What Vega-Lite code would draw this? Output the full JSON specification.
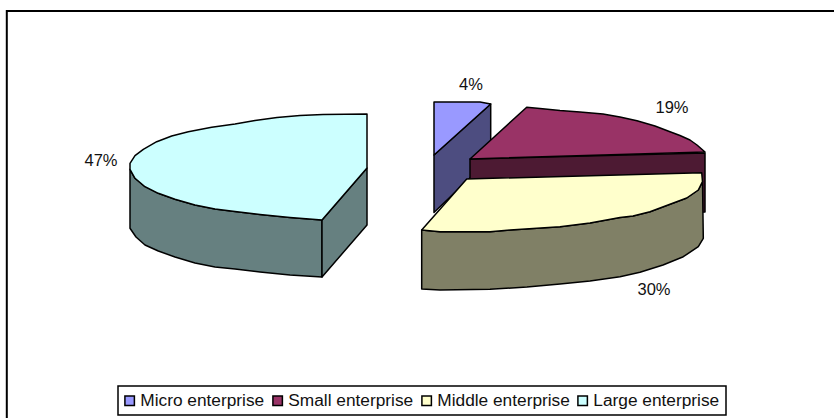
{"$schema":"https://vega.github.io/schema/vega-lite/v6.json","width":834,"height":418,"padding":0,"autosize":{"type":"none"},"background":"white","view":{"stroke":null},"config":{"legend":{"strokeWidth":1.5}},
"datasets":{"faces":[
{"s":"mw","part":"Micro enterprise side","i":1,"x":434,"y":155},{"s":"mw","part":"Micro enterprise side","i":2,"x":490.7,"y":104},{"s":"mw","part":"Micro enterprise side","i":3,"x":490.7,"y":158},{"s":"mw","part":"Micro enterprise side","i":4,"x":434,"y":212.5},
{"s":"mt","part":"Micro enterprise","i":1,"x":434,"y":102},{"s":"mt","part":"Micro enterprise","i":2,"x":480,"y":102},{"s":"mt","part":"Micro enterprise","i":3,"x":490.7,"y":104},{"s":"mt","part":"Micro enterprise","i":4,"x":434,"y":155},
{"s":"sw","part":"Small enterprise side","i":1,"x":470,"y":159},{"s":"sw","part":"Small enterprise side","i":2,"x":705,"y":153},{"s":"sw","part":"Small enterprise side","i":3,"x":705,"y":212},{"s":"sw","part":"Small enterprise side","i":4,"x":470,"y":218},
{"s":"st","part":"Small enterprise","i":1,"x":470,"y":159},{"s":"st","part":"Small enterprise","i":2,"x":526.7,"y":107.3},{"s":"st","part":"Small enterprise","i":3,"x":540,"y":108.5},{"s":"st","part":"Small enterprise","i":4,"x":560,"y":110.5},{"s":"st","part":"Small enterprise","i":5,"x":580,"y":112},{"s":"st","part":"Small enterprise","i":6,"x":603,"y":114},{"s":"st","part":"Small enterprise","i":7,"x":620,"y":117},{"s":"st","part":"Small enterprise","i":8,"x":637,"y":120.7},{"s":"st","part":"Small enterprise","i":9,"x":655,"y":126},{"s":"st","part":"Small enterprise","i":10,"x":670,"y":131.7},{"s":"st","part":"Small enterprise","i":11,"x":680,"y":135.5},{"s":"st","part":"Small enterprise","i":12,"x":690,"y":140},{"s":"st","part":"Small enterprise","i":13,"x":697,"y":145},{"s":"st","part":"Small enterprise","i":14,"x":705,"y":152},
{"s":"dw","part":"Middle enterprise side","i":1,"x":421.7,"y":230},{"s":"dw","part":"Middle enterprise side","i":2,"x":440,"y":231.7},{"s":"dw","part":"Middle enterprise side","i":3,"x":490,"y":231.7},{"s":"dw","part":"Middle enterprise side","i":4,"x":510,"y":230},{"s":"dw","part":"Middle enterprise side","i":5,"x":560,"y":226.7},{"s":"dw","part":"Middle enterprise side","i":6,"x":590,"y":223},{"s":"dw","part":"Middle enterprise side","i":7,"x":620,"y":217.5},{"s":"dw","part":"Middle enterprise side","i":8,"x":633,"y":216},{"s":"dw","part":"Middle enterprise side","i":9,"x":650,"y":211.7},{"s":"dw","part":"Middle enterprise side","i":10,"x":670,"y":204.3},{"s":"dw","part":"Middle enterprise side","i":11,"x":686.7,"y":198},{"s":"dw","part":"Middle enterprise side","i":12,"x":698.3,"y":190},{"s":"dw","part":"Middle enterprise side","i":13,"x":702.5,"y":181.7},{"s":"dw","part":"Middle enterprise side","i":14,"x":703.3,"y":238.3},{"s":"dw","part":"Middle enterprise side","i":15,"x":698.3,"y":246.7},{"s":"dw","part":"Middle enterprise side","i":16,"x":683.3,"y":256.7},{"s":"dw","part":"Middle enterprise side","i":17,"x":663,"y":265},{"s":"dw","part":"Middle enterprise side","i":18,"x":640,"y":272.3},{"s":"dw","part":"Middle enterprise side","i":19,"x":620,"y":276.7},{"s":"dw","part":"Middle enterprise side","i":20,"x":590,"y":281},{"s":"dw","part":"Middle enterprise side","i":21,"x":560,"y":284},{"s":"dw","part":"Middle enterprise side","i":22,"x":527,"y":287},{"s":"dw","part":"Middle enterprise side","i":23,"x":490,"y":289.3},{"s":"dw","part":"Middle enterprise side","i":24,"x":440,"y":290},{"s":"dw","part":"Middle enterprise side","i":25,"x":421.7,"y":289},
{"s":"dt","part":"Middle enterprise","i":1,"x":421.7,"y":230},{"s":"dt","part":"Middle enterprise","i":2,"x":466.7,"y":179},{"s":"dt","part":"Middle enterprise","i":3,"x":701.7,"y":172.7},{"s":"dt","part":"Middle enterprise","i":4,"x":702.5,"y":181.7},{"s":"dt","part":"Middle enterprise","i":5,"x":698.3,"y":190},{"s":"dt","part":"Middle enterprise","i":6,"x":686.7,"y":198},{"s":"dt","part":"Middle enterprise","i":7,"x":670,"y":204.3},{"s":"dt","part":"Middle enterprise","i":8,"x":650,"y":211.7},{"s":"dt","part":"Middle enterprise","i":9,"x":633,"y":216},{"s":"dt","part":"Middle enterprise","i":10,"x":620,"y":217.5},{"s":"dt","part":"Middle enterprise","i":11,"x":590,"y":223},{"s":"dt","part":"Middle enterprise","i":12,"x":560,"y":226.7},{"s":"dt","part":"Middle enterprise","i":13,"x":510,"y":230},{"s":"dt","part":"Middle enterprise","i":14,"x":490,"y":231.7},{"s":"dt","part":"Middle enterprise","i":15,"x":440,"y":231.7},
{"s":"lw","part":"Large enterprise side","i":1,"x":130,"y":169.3},{"s":"lw","part":"Large enterprise side","i":2,"x":135,"y":178.3},{"s":"lw","part":"Large enterprise side","i":3,"x":145,"y":186.7},{"s":"lw","part":"Large enterprise side","i":4,"x":158.3,"y":193.3},{"s":"lw","part":"Large enterprise side","i":5,"x":175,"y":199.3},{"s":"lw","part":"Large enterprise side","i":6,"x":195,"y":205},{"s":"lw","part":"Large enterprise side","i":7,"x":215,"y":209},{"s":"lw","part":"Large enterprise side","i":8,"x":235,"y":211.5},{"s":"lw","part":"Large enterprise side","i":9,"x":260,"y":214.5},{"s":"lw","part":"Large enterprise side","i":10,"x":290,"y":217.5},{"s":"lw","part":"Large enterprise side","i":11,"x":322,"y":220},{"s":"lw","part":"Large enterprise side","i":12,"x":322,"y":277},{"s":"lw","part":"Large enterprise side","i":13,"x":290,"y":275},{"s":"lw","part":"Large enterprise side","i":14,"x":260,"y":272},{"s":"lw","part":"Large enterprise side","i":15,"x":235,"y":269},{"s":"lw","part":"Large enterprise side","i":16,"x":215,"y":267},{"s":"lw","part":"Large enterprise side","i":17,"x":195,"y":263},{"s":"lw","part":"Large enterprise side","i":18,"x":175,"y":257},{"s":"lw","part":"Large enterprise side","i":19,"x":158.3,"y":251},{"s":"lw","part":"Large enterprise side","i":20,"x":145,"y":245},{"s":"lw","part":"Large enterprise side","i":21,"x":136,"y":237},{"s":"lw","part":"Large enterprise side","i":22,"x":130,"y":228.3},
{"s":"lr","part":"Large enterprise side","i":1,"x":322,"y":220},{"s":"lr","part":"Large enterprise side","i":2,"x":367,"y":168},{"s":"lr","part":"Large enterprise side","i":3,"x":367,"y":225},{"s":"lr","part":"Large enterprise side","i":4,"x":322,"y":277},
{"s":"lt","part":"Large enterprise","i":1,"x":367,"y":114},{"s":"lt","part":"Large enterprise","i":2,"x":323,"y":114.5},{"s":"lt","part":"Large enterprise","i":3,"x":300,"y":115.5},{"s":"lt","part":"Large enterprise","i":4,"x":277,"y":117.5},{"s":"lt","part":"Large enterprise","i":5,"x":255,"y":120.5},{"s":"lt","part":"Large enterprise","i":6,"x":235,"y":124},{"s":"lt","part":"Large enterprise","i":7,"x":211.7,"y":127.3},{"s":"lt","part":"Large enterprise","i":8,"x":188.3,"y":131.7},{"s":"lt","part":"Large enterprise","i":9,"x":171.7,"y":136},{"s":"lt","part":"Large enterprise","i":10,"x":156.7,"y":141.7},{"s":"lt","part":"Large enterprise","i":11,"x":143.3,"y":149.3},{"s":"lt","part":"Large enterprise","i":12,"x":135,"y":155.7},{"s":"lt","part":"Large enterprise","i":13,"x":130,"y":163.3},{"s":"lt","part":"Large enterprise","i":14,"x":130,"y":169.3},{"s":"lt","part":"Large enterprise","i":15,"x":135,"y":178.3},{"s":"lt","part":"Large enterprise","i":16,"x":145,"y":186.7},{"s":"lt","part":"Large enterprise","i":17,"x":158.3,"y":193.3},{"s":"lt","part":"Large enterprise","i":18,"x":175,"y":199.3},{"s":"lt","part":"Large enterprise","i":19,"x":195,"y":205},{"s":"lt","part":"Large enterprise","i":20,"x":215,"y":209},{"s":"lt","part":"Large enterprise","i":21,"x":235,"y":211.5},{"s":"lt","part":"Large enterprise","i":22,"x":260,"y":214.5},{"s":"lt","part":"Large enterprise","i":23,"x":290,"y":217.5},{"s":"lt","part":"Large enterprise","i":24,"x":322,"y":220},{"s":"lt","part":"Large enterprise","i":25,"x":367,"y":168}
],"labels":[{"share":0.04,"x":471,"y":85},{"share":0.19,"x":672,"y":108},{"share":0.30,"x":654,"y":290},{"share":0.47,"x":101,"y":161}],
"frame":[{"x":6.8,"y":11,"x2":845,"y2":430}]},
"layer":[
{"data":{"name":"frame"},"mark":{"type":"rect","fill":"white","stroke":"black","strokeWidth":2},"encoding":{"x":{"field":"x","type":"quantitative","scale":{"domain":[0,834]},"axis":null},"y":{"field":"y","type":"quantitative","scale":{"domain":[418,0]},"axis":null},"x2":{"field":"x2"},"y2":{"field":"y2"}}},
{"data":{"name":"faces"},"mark":{"type":"line","interpolate":"linear-closed","stroke":"black","strokeWidth":1.5,"strokeJoin":"round","filled":true},"encoding":{"x":{"field":"x","type":"quantitative","scale":{"domain":[0,834]},"axis":null},"y":{"field":"y","type":"quantitative","scale":{"domain":[418,0]},"axis":null},"detail":{"field":"s"},"order":{"field":"i","type":"quantitative"},"fill":{"field":"part","type":"nominal","scale":{"domain":["Micro enterprise","Small enterprise","Middle enterprise","Large enterprise","Micro enterprise side","Small enterprise side","Middle enterprise side","Large enterprise side"],"range":["#9999FF","#993366","#FFFFCC","#CCFFFF","#4D4D80","#4D1A33","#808066","#668080"]},"legend":{"values":["Micro enterprise","Small enterprise","Middle enterprise","Large enterprise"],"title":null,"orient":"none","legendX":118,"legendY":386,"direction":"horizontal","columns":4,"columnPadding":4,"symbolType":"square","symbolSize":90,"symbolOffset":-3,"symbolStrokeColor":"black","symbolStrokeWidth":1.5,"symbolOpacity":1,"labelFont":"Liberation Sans","labelFontSize":17.3,"labelColor":"#111111","fillColor":"white","strokeColor":"black","padding":6,"labelOffset":2}}}},
{"data":{"name":"labels"},"mark":{"type":"text","font":"Liberation Sans","fontSize":16.5,"color":"#111111"},"encoding":{"x":{"field":"x","type":"quantitative","scale":{"domain":[0,834]},"axis":null},"y":{"field":"y","type":"quantitative","scale":{"domain":[418,0]},"axis":null},"text":{"field":"share","type":"quantitative","format":".0%"}}}
]}
